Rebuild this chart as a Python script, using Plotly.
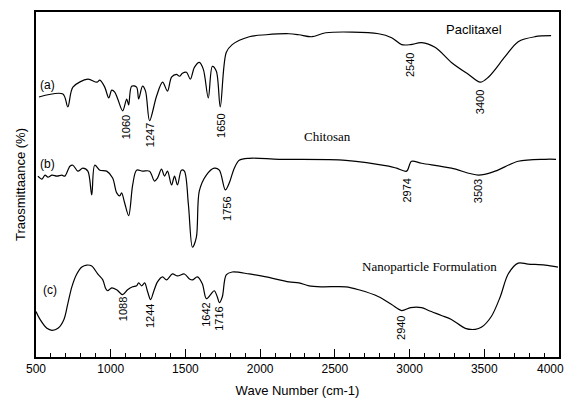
import plotly.graph_objects as go

# Paclitaxel (a)
wn_a = [520, 680, 713, 747, 847, 907, 927, 960, 987, 1007, 1027, 1047, 1080, 1107, 1120, 1140,
        1173, 1187, 1213, 1233, 1260, 1307, 1347, 1380, 1407, 1440, 1460, 1480, 1507, 1533, 1560,
        1593, 1620, 1653, 1680, 1707, 1733, 1773, 1813, 1927, 2040, 2193, 2260, 2347, 2440, 2793,
        2880, 2947, 3007, 3080, 3173, 3280, 3393, 3473, 3527, 3640, 3727, 3840, 3947]
t_a = [263, 266, 253, 273, 281, 278, 280, 273, 262, 270, 268, 261, 249, 261, 255, 274,
       273, 261, 274, 269, 239, 264, 278, 269, 283, 286, 284, 287, 288, 281, 293,
       298, 291, 262, 294, 289, 253, 308, 316, 324, 326, 327, 326, 324, 328, 327,
       323, 316, 316, 318, 313, 298, 286, 278, 283, 304, 319, 324, 325]

# Chitosan (b)
wn_b = [513, 540, 560, 580, 607, 640, 673, 693, 727, 747, 780, 813, 847, 873, 893, 927, 973,
        1013, 1040, 1060, 1073, 1093, 1120, 1147, 1173, 1213, 1260, 1293, 1313, 1340, 1360, 1380,
        1407, 1427, 1447, 1473, 1493, 1520, 1547, 1573, 1593, 1640, 1693, 1727, 1767, 1793, 1827,
        1860, 1927, 2127, 2573, 2860, 2913, 2980, 3013, 3080, 3280, 3460, 3573, 3727, 3907, 3980]
t_b = [183, 180, 184, 182, 184, 183, 184, 183, 193, 194, 188, 191, 188, 164, 194, 189, 188,
       181, 166, 163, 166, 156, 143, 174, 189, 188, 188, 178, 181, 190, 183, 188,
       174, 183, 174, 189, 188, 154, 111, 121, 168, 184, 191, 189, 169, 176, 191,
       199, 201, 200, 199, 193, 191, 188, 198, 196, 191, 184, 188, 198, 200, 200]

# Nanoparticle Formulation (c)
wn_c = [500, 527, 573, 607, 647, 687, 713, 740, 773, 807, 840, 873, 913, 947, 967, 980, 1007,
        1040, 1080, 1113, 1147, 1173, 1187, 1207, 1227, 1247, 1267, 1287, 1313, 1347, 1373, 1413,
        1447, 1493, 1527, 1547, 1580, 1613, 1640, 1673, 1693, 1713, 1727, 1747, 1773, 1813, 1927,
        2040, 2193, 2260, 2327, 2413, 2573, 2660, 2793, 2880, 2947, 3007, 3080, 3127, 3213, 3280,
        3373, 3440, 3480, 3547, 3607, 3660, 3727, 3793, 3907, 3993]
t_c = [46, 38, 29, 27, 29, 38, 54, 71, 84, 91, 93, 92, 84, 78, 69, 67, 70,
       68, 63, 68, 71, 72, 75, 72, 75, 66, 58, 66, 76, 81, 78, 84,
       82, 84, 79, 78, 81, 74, 59, 64, 67, 61, 55, 61, 83, 86, 84,
       81, 76, 75, 72, 71, 71, 68, 61, 53, 47, 50, 50, 47, 42, 38,
       29, 28, 30, 41, 61, 84, 95, 94, 93, 91]

# peak labels: (text, x position, y position of label centre)
peaks_a = [("1060", 1100, 232), ("1247", 1260, 224), ("1650", 1733, 234), ("2540", 3007, 295), ("3400", 3473, 258)]
peaks_b = [("1756", 1773, 150), ("2974", 2980, 168), ("3503", 3460, 168)]
peaks_c = [("1088", 1080, 48), ("1244", 1267, 41), ("1642", 1640, 43), ("1716", 1727, 39), ("2940", 2947, 29)]

x_ticks = [500, 1000, 1500, 2000, 2500, 3000, 3500, 4000]

SANS = "Liberation Sans, Arial"
SERIF = "Liberation Serif, Times New Roman"

fig = go.Figure()
for wn, t in [(wn_a, t_a), (wn_b, t_b), (wn_c, t_c)]:
    fig.add_trace(go.Scatter(x=wn, y=t, mode="lines",
                             line=dict(color="black", width=1.2, shape="spline", smoothing=0.9),
                             showlegend=False, hoverinfo="skip"))

ann = []
for group in (peaks_a, peaks_b, peaks_c):
    for txt, xx, yy in group:
        ann.append(dict(x=xx, y=yy, text=txt, textangle=-90, showarrow=False,
                        font=dict(family=SANS, size=11, color="black")))

for txt, xx, yy in [("(a)", 580, 275), ("(b)", 580, 195), ("(c)", 593, 68)]:
    ann.append(dict(x=xx, y=yy, text=txt, showarrow=False,
                    font=dict(family=SANS, size=12, color="black")))

ann.append(dict(x=3430, y=331, text="Paclitaxel", showarrow=False,
                font=dict(family=SANS, size=13, color="black")))
ann.append(dict(x=2450, y=223, text="Chitosan", showarrow=False,
                font=dict(family=SERIF, size=13, color="black")))
ann.append(dict(x=3130, y=92, text="Nanoparticle Formulation", showarrow=False,
                font=dict(family=SERIF, size=13, color="black")))

# last tick label (kept inside the page edge as in the original)
ann.append(dict(x=x_ticks[-1], y=0, yref="y", text=str(x_ticks[-1]), showarrow=False,
                xanchor="right", yanchor="middle", xshift=7, yshift=-12,
                font=dict(family=SANS, size=12, color="black")))

fig.update_layout(
    width=568, height=403,
    margin=dict(l=36, r=7, t=12, b=42),
    paper_bgcolor="white", plot_bgcolor="white",
    annotations=ann,
    xaxis=dict(range=[500, 4000], tickvals=x_ticks,
               ticktext=[str(v) for v in x_ticks[:-1]] + [""],
               ticks="inside", ticklen=8, tickwidth=1.2, tickcolor="black",
               minor=dict(dtick=100, tick0=500, ticks="inside", ticklen=4, tickwidth=1, tickcolor="black"),
               showline=True, linecolor="black", linewidth=1.6, mirror=True,
               showgrid=False, zeroline=False,
               tickfont=dict(family=SANS, size=12, color="black"),
               title=dict(text="Wave Number (cm-1)", standoff=11,
                          font=dict(family=SANS, size=13, color="black"))),
    yaxis=dict(range=[0, 349], showticklabels=False, ticks="",
               showline=True, linecolor="black", linewidth=1.6, mirror=True,
               showgrid=False, zeroline=False,
               title=dict(text="Traosmittaance (%)", standoff=6,
                          font=dict(family=SANS, size=13, color="black"))),
)

fig.write_html("out.html", config={"displayModeBar": False},
               post_script="document.body.style.margin='0';document.body.style.overflow='hidden';")
